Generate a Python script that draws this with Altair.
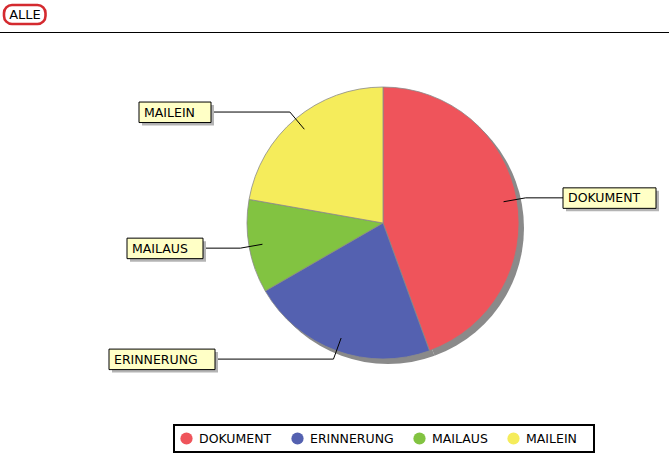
import altair as alt
import pandas as pd
import numpy as np

# ---- data ----
categories = ["DOKUMENT", "ERINNERUNG", "MAILAUS", "MAILEIN"]
counts = [8, 4, 2, 4]
colors = ["#EF545B", "#5461B0", "#82C341", "#F5EC5B"]

# ---- layout (pixels) ----
W, H = 669, 467
CX, CY, R = 383, 223, 136
box_left = [563, 109, 127, 139]
box_right = [656, 215, 203, 211]
FONT = "DejaVu Sans"

df = pd.DataFrame({"cat": categories, "value": counts, "order": list(range(len(categories)))})

total = float(sum(counts))
cum = np.cumsum([0] + counts)
mid = (cum[:-1] + cum[1:]) / 2.0 / total * 2 * np.pi
ax_ = CX + 0.90 * R * np.sin(mid)
ay_ = CY - 0.90 * R * np.cos(mid)
ex_ = CX + 1.065 * R * np.sin(mid)
ey_ = CY - 1.065 * R * np.cos(mid)

segs = []
boxes = []
for i, c in enumerate(categories):
    right_side = ex_[i] > CX
    edge = box_left[i] if right_side else box_right[i]
    segs.append({"cat": c, "x": edge, "y": ey_[i], "x2": ex_[i], "y2": ey_[i]})
    segs.append({"cat": c, "x": ex_[i], "y": ey_[i], "x2": ax_[i], "y2": ay_[i]})
    boxes.append({"cat": c, "x": box_left[i], "x2": box_right[i],
                  "y": ey_[i] - 10, "y2": ey_[i] + 10.5,
                  "tx": box_left[i] + 5, "ty": ey_[i] + 0.5,
                  "sx": box_left[i] + 3, "sx2": box_right[i] + 3,
                  "sy": ey_[i] - 7, "sy2": ey_[i] + 13.5})
seg_df = pd.DataFrame(segs)
box_df = pd.DataFrame(boxes)

xs = alt.Scale(domain=[0, W], range=[0, W], nice=False, zero=False)
ys = alt.Scale(domain=[0, H], range=[0, H], nice=False, zero=False)
one = pd.DataFrame({"a": [0]})

# header
rule = alt.Chart(one).mark_rule(color="black", strokeWidth=1).encode(
    x=alt.value(0), x2=alt.value(W), y=alt.value(32.5))
btn = alt.Chart(one).mark_rect(fill="white", stroke="#D42A2F", strokeWidth=2.6,
                               cornerRadius=8).encode(
    x=alt.value(4), x2=alt.value(45.5), y=alt.value(5), y2=alt.value(24))
btn_txt = alt.Chart(one).mark_text(text="ALLE", font=FONT, fontSize=13, color="black",
                                   align="center", baseline="middle").encode(
    x=alt.value(25), y=alt.value(15))

# pie
shadow = alt.Chart(df).mark_arc(outerRadius=R, x=CX + 5, y=CY + 5, fill="#8A8A8A",
                                stroke=None).encode(
    theta=alt.Theta("value:Q", stack=True), order=alt.Order("order:Q"))
pie = alt.Chart(df).mark_arc(outerRadius=R, x=CX, y=CY, stroke="#8A8A8A",
                             strokeWidth=0.8).encode(
    theta=alt.Theta("value:Q", stack=True),
    order=alt.Order("order:Q"),
    color=alt.Color("cat:N",
                    scale=alt.Scale(domain=categories, range=colors),
                    legend=alt.Legend(orient="none", legendX=173, legendY=425,
                                      direction="horizontal", title=None,
                                      symbolType="circle", symbolSize=150,
                                      symbolStrokeWidth=0, symbolOpacity=1,
                                      labelFont=FONT, labelFontSize=12.5,
                                      labelColor="black", labelOffset=6,
                                      columnPadding=19, padding=7)),
)

# legend border
leg_border = alt.Chart(one).mark_rect(fill=None, stroke="black", strokeWidth=2).encode(
    x=alt.value(174), x2=alt.value(594), y=alt.value(425), y2=alt.value(452))

# leader lines
lines = alt.Chart(seg_df).mark_rule(color="black", strokeWidth=1).encode(
    x=alt.X("x:Q", scale=xs, axis=None), y=alt.Y("y:Q", scale=ys, axis=None),
    x2="x2:Q", y2="y2:Q")

# label boxes
bshadow = alt.Chart(box_df).mark_rect(fill="#B4B4B4").encode(
    x=alt.X("sx:Q", scale=xs, axis=None), x2="sx2:Q",
    y=alt.Y("sy:Q", scale=ys, axis=None), y2="sy2:Q")
bbox = alt.Chart(box_df).mark_rect(fill="#FFFFC6", stroke="black", strokeWidth=1).encode(
    x=alt.X("x:Q", scale=xs, axis=None), x2="x2:Q",
    y=alt.Y("y:Q", scale=ys, axis=None), y2="y2:Q")
btext = alt.Chart(box_df).mark_text(font=FONT, fontSize=12.5, color="black",
                                    align="left", baseline="middle").encode(
    x=alt.X("tx:Q", scale=xs, axis=None), y=alt.Y("ty:Q", scale=ys, axis=None),
    text="cat:N")

chart = alt.layer(rule, btn, btn_txt, shadow, pie, leg_border, lines, bshadow, bbox, btext).properties(
    width=W, height=H, padding=0, autosize=alt.AutoSizeParams(type="none"),
    background="white"
).configure_view(stroke=None)

chart.save("out.html", embed_options={"renderer": "svg", "actions": False})
